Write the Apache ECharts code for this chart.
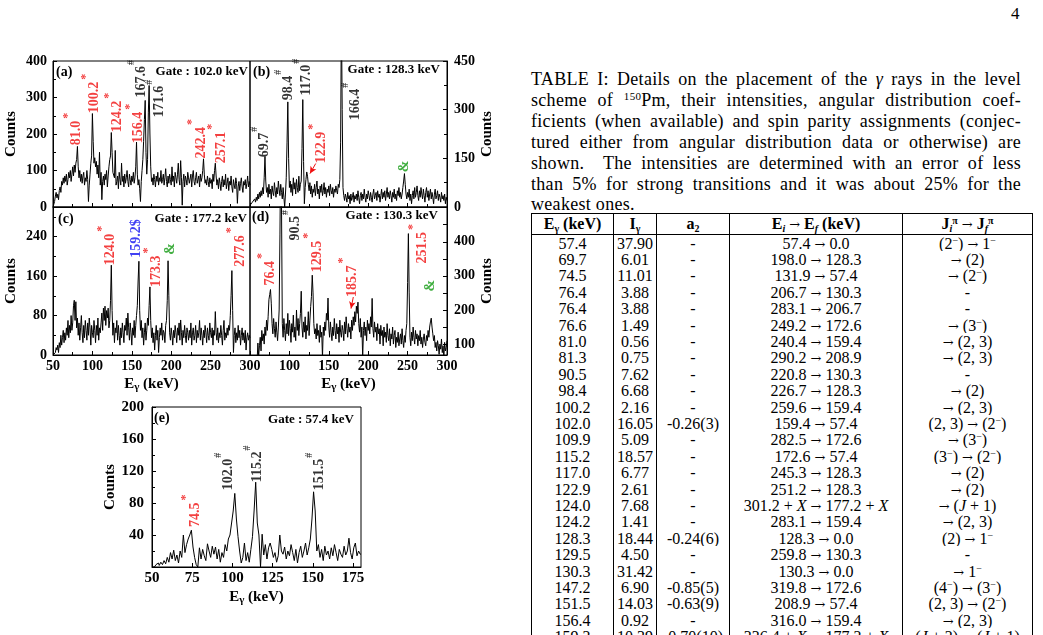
<!DOCTYPE html>
<html>
<head>
<meta charset="utf-8">
<script src="https://cdn.jsdelivr.net/npm/echarts@6/dist/echarts.min.js"></script>
<style>
  body { margin: 0; width: 1043px; height: 635px; overflow: hidden; background: #fff; position: relative; font-family: "Liberation Serif", "Times New Roman", serif; color: #000; }
  #chart { position: absolute; left: 0; top: 0; width: 520px; height: 635px; }
  #pageno { position: absolute; left: 1011px; top: 4px; font-size: 17px; }
  #caption { position: absolute; left: 531px; top: 69px; width: 490px; font-size: 18px; letter-spacing: 0.3px; line-height: 20.9px; }
  #caption div { text-align: justify; text-align-last: justify; white-space: nowrap; }
  #caption div.last { text-align-last: left; }
  #caption sup { font-size: 11px; line-height: 0; vertical-align: 6px; }
  #tbl { position: absolute; left: 531px; top: 213px; border-collapse: collapse; font-size: 16px; table-layout: fixed; }
  #tbl td, #tbl th { border-left: 1px solid #000; border-right: 1px solid #000; padding: 0; text-align: center; white-space: nowrap; overflow: hidden; }
  #tbl th { border-top: 1px solid #000; border-bottom: 1px solid #000; height: 20px; line-height: 18px; font-weight: bold; }
  #tbl td { height: 16.4px; line-height: 15px; }
  #tbl sup { font-size: 10px; line-height: 0; vertical-align: 5px; }
  #tbl sub { font-size: 10px; line-height: 0; vertical-align: -3px; }
  .ar { font-family: "DejaVu Serif", serif; font-size: 13px; font-weight: normal; line-height: 0; }
</style>
</head>
<body>
<div id="chart"></div>
<div id="pageno">4</div>
<div id="caption">
  <div>TABLE I: Details on the placement of the <i>γ</i> rays in the level</div>
  <div>scheme of <sup>150</sup>Pm, their intensities, angular distribution coef-</div>
  <div>ficients (when available) and spin parity assignments (conjec-</div>
  <div>tured either from angular distribution data or otherwise) are</div>
  <div>shown. &nbsp;The intensities are determined with an error of less</div>
  <div>than 5% for strong transitions and it was about 25% for the</div>
  <div class="last">weakest ones.</div>
</div>
<table id="tbl"></table>
<script>
const SERIF = '"Liberation Serif", "Times New Roman", serif';
const RED = "#f01010";
const BLUE = "#1010f0";
const GREEN = "#109a10";

// energy of first channel (keV), 1 keV per channel
const energyStart = 50;

// (a) gate 102.0 keV, 50..300 keV
const countsA = [
  0, 5, 15, 30, 40, 25, 35, 20, 45, 55,
  40, 70, 60, 80, 65, 85, 70, 90, 60, 75,
  95, 80, 100, 70, 90, 110, 85, 115, 95, 120,
  130, 166, 110, 80, 100, 70, 90, 65, 85, 95,
  60, 80, 70, 100, 75, 15, 60, 90, 120, 140,
  256, 180, 120, 135, 110, 125, 90, 115, 80, 150,
  60, 95, 20, 70, 85, 60, 90, 75, 100, 55,
  85, 110, 130, 140, 204, 150, 95, 95, 80, 155,
  60, 70, 85, 50, 95, 75, 60, 120, 70, 85,
  55, 90, 65, 80, 100, 70, 55, 90, 75, 60,
  85, 70, 95, 65, 80, 110, 178, 90, 60, 75,
  50, 15, 70, 100, 130, 180, 240, 292, 150, 90,
  130, 260, 333, 200, 110, 70, 80, 60, 90, 75,
  55, 85, 70, 95, 60, 80, 70, 100, 65, 75,
  90, 60, 80, 105, 70, 55, 85, 65, 90, 75,
  60, 110, 70, 85, 55, 95, 80, 65, 90, 120,
  75, 60, 127, 80, 5, 70, 90, 55, 85, 75,
  60, 95, 80, 65, 70, 90, 55, 85, 100, 70,
  60, 80, 95, 65, 75, 85, 55, 90, 70, 80,
  100, 132, 90, 65, 75, 60, 85, 70, 55, 80,
  65, 75, 50, 90, 70, 100, 120, 85, 60, 75,
  50, 80, 65, 45, 70, 85, 55, 75, 60, 90,
  50, 65, 80, 45, 70, 60, 85, 55, 40, 75,
  60, 50, 80, 65, 10, 55, 70, 45, 65, 80,
  55, 40, 70, 60, 75, 50, 65, 85, 55, 70,
  60
];

// (b) gate 128.3 keV
const countsB = [
  5, 10, 0, 15, 20, 10, 25, 15, 30, 20,
  40, 25, 45, 30, 50, 35, 60, 40, 90, 156,
  80, 45, 60, 30, 70, 40, 55, 25, 65, 45,
  35, 75, 50, 30, 60, 40, 80, 55, 35, 70,
  45, 25, 60, 30, 0, 40, 90, 200, 324, 150,
  60, 80, 45, 70, 35, 90, 55, 75, 40, 85,
  60, 45, 95, 50, 70, 80, 180, 331, 140, 10,
  60, 85, 108, 95, 70, 50, 75, 40, 65, 30,
  55, 45, 70, 35, 60, 80, 40, 55, 25, 65,
  45, 70, 35, 50, 75, 40, 60, 30, 55, 45,
  65, 35, 70, 50, 40, 60, 30, 55, 45, 65,
  50, 40, 70, 60, 85, 200, 600, 300, 60, 35,
  20, 40, 30, 15, 45, 25, 35, 10, 40, 20,
  30, 45, 15, 35, 25, 40, 20, 50, 30, 10,
  35, 45, 20, 40, 25, 55, 30, 15, 40, 25,
  50, 35, 20, 45, 30, 15, 40, 55, 25, 35,
  45, 20, 50, 30, 40, 15, 35, 55, 25, 45,
  30, 50, 20, 40, 60, 30, 45, 25, 50, 35,
  15, 45, 30, 55, 25, 40, 20, 50, 35, 60,
  30, 45, 25, 40, 60, 80, 103, 70, 40, 25,
  45, 30, 55, 20, 40, 10, 35, 50, 25, 60,
  30, 45, 65, 35, 20, 50, 30, 60, 40, 25,
  55, 35, 15, 45, 60, 30, 50, 20, 40, 55,
  25, 45, 30, 10, 40, 55, 25, 35, 50, 20,
  40, 30, 15, 45, 25, 35, 20, 40, 10, 30,
  20
];

// (c) gate 177.2 keV
const countsC = [
  0, 0, 0, 5, 15, 10, 20, 5, 25, 15,
  40, 20, 35, 50, 25, 45, 30, 55, 40, 70,
  35, 60, 45, 80, 50, 65, 100, 111, 70, 108,
  55, 75, 40, 65, 30, 55, 80, 45, 25, 60,
  35, 70, 50, 30, 65, 40, 75, 55, 20, 60,
  45, 35, 70, 50, 25, 60, 40, 75, 30, 55,
  45, 65, 85, 50, 95, 70, 99, 60, 90, 75,
  95, 55, 70, 110, 182, 90, 40, 65, 25, 55,
  45, 70, 30, 60, 40, 20, 55, 35, 65, 45,
  25, 60, 50, 75, 40, 85, 55, 30, 65, 45,
  20, 55, 40, 70, 35, 60, 80, 100, 150, 190,
  90, 50, 70, 35, 55, 20, 45, 65, 30, 50,
  75, 60, 100, 138, 70, 35, 55, 25, 45, 10,
  40, 60, 30, 50, 5, 35, 55, 40, 65, 30,
  50, 45, 25, 60, 70, 110, 191, 120, 45, 30,
  55, 40, 20, 50, 35, 60, 45, 25, 55, 40,
  65, 30, 71, 45, 20, 50, 35, 60, 40, 25,
  55, 45, 30, 50, 35, 65, 20, 45, 55, 30,
  40, 60, 25, 50, 35, 45, 70, 30, 55, 40,
  20, 50, 35, 60, 45, 25, 55, 40, 30, 65,
  45, 35, 55, 20, 50, 40, 88, 45, 30, 55,
  25, 45, 35, 60, 40, 20, 50, 70, 30, 45,
  35, 55, 40, 60, 50, 80, 120, 171, 90, 5,
  40, 55, 25, 45, 30, 60, 35, 50, 20, 40,
  55, 30, 45, 25, 50, 10, 35, 45, 30, 40,
  35
];

// (d) gate 130.3 keV
const countsD = [
  40, 55, 45, 60, 50, 35, 55, 45, 60, 50,
  103, 65, 95, 120, 80, 140, 110, 130, 100, 150,
  125, 170, 140, 180, 230, 245, 260, 220, 160, 130,
  175, 145, 120, 165, 135, 110, 150, 200, 420, 700,
  500, 160, 120, 175, 140, 110, 160, 130, 190, 125,
  170, 145, 105, 160, 135, 185, 120, 150, 110, 200,
  140, 175, 125, 160, 190, 255, 150, 120, 165, 135,
  180, 115, 155, 140, 195, 125, 170, 210, 240, 302,
  250, 160, 130, 145, 115, 160, 125, 140, 105, 155,
  120, 135, 60, 150, 125, 165, 140, 190, 170, 235,
  150, 120, 165, 135, 110, 150, 125, 175, 140, 115,
  160, 130, 150, 105, 170, 135, 120, 155, 140, 110,
  165, 130, 180, 145, 120, 160, 135, 150, 115, 170,
  140, 180, 155, 195, 165, 211, 190, 223, 160, 135,
  175, 120, 150, 60, 140, 165, 125, 150, 110, 170,
  140, 160, 130, 180, 150, 234, 145, 120, 165, 135,
  150, 110, 160, 130, 145, 100, 155, 125, 140, 95,
  150, 120, 135, 105, 160, 125, 110, 145, 95, 130,
  115, 150, 100, 125, 140, 90, 120, 105, 135, 95,
  115, 130, 100, 145, 110, 90, 125, 105, 140, 160,
  280, 424, 250, 120, 95, 135, 110, 150, 120, 100,
  140, 115, 130, 95, 125, 110, 140, 100, 120, 90,
  115, 130, 105, 95, 125, 110, 140, 120, 150, 165,
  176, 150, 130, 110, 125, 90, 105, 80, 110, 95,
  70, 100, 85, 115, 75, 95, 60, 105, 80, 90,
  110
];

// (e) gate 57.4 keV, 50..180 keV
const countsE = [
  0, 0, 0, 3, 5, 2, 6, 3, 8, 4,
  12, 6, 18, 10, 21, 8, 15, 5, 20, 12,
  40, 18, 28, 35, 40, 46, 25, 12, 3, 0,
  24, 10, 22, 14, 8, 29, 20, 12, 26, 16,
  25, 10, 22, 6, 18, 12, 28, 20, 35, 40,
  55, 70, 92, 60, 38, 20, 5, 12, 30, 8,
  18, 6, 22, 38, 70, 106, 55, 40, 0, 41,
  15, 28, 10, 24, 30, 22, 12, 18, 6, 14,
  40, 20, 16, 25, 10, 20, 14, 28, 18, 8,
  22, 5, 18, 26, 12, 20, 30, 15, 24, 35,
  60, 94, 70, 20, 28, 12, 22, 8, 26, 15,
  20, 10, 24, 14, 28, 18, 8, 22, 16, 12,
  26, 15, 20, 36, 18, 10, 24, 30, 14, 20,
  16
];

// peak labels: [energy, counts where text starts, text, kind]
// kind: r = red with *, k = black with #, b = blue, g = green
const labelsA = [
  [80.1, 169, "81.0", "r"],
  [102.9, 257, "100.2", "r"],
  [132.1, 205, "124.2", "r"],
  [158.8, 175, "156.4", "r"],
  [162.6, 300, "167.6", "k"],
  [185.4, 246, "171.6", "k"],
  [238.3, 133, "242.4", "r"],
  [263.7, 120, "257.1", "r"]
];
const labelsB = [
  [67.8, 153, "69.7", "k"],
  [98.2, 329, "98.4", "k"],
  [122, 344, "117.0", "k"],
  [141, 135, "122.9", "r"],
  [183.2, 267, "166.4", "k"],
  [245.8, 107, "&", "g"]
];
const labelsC = [
  [123.2, 182, "124.0", "r"],
  [156.2, 197, "159.2$", "b"],
  [181.6, 138, "173.3", "r"],
  [199, 203, "&", "g"],
  [287.8, 179, "277.6", "r"]
];
const labelsD = [
  [76.3, 272, "76.4", "r"],
  [107.1, 404, "90.5", "k"],
  [135.4, 311, "129.5", "r"],
  [179.8, 238, "185.7", "r"],
  [268.7, 336, "251.5", "r"],
  [278.4, 254, "&", "g"]
];
const labelsE = [
  [76.9, 50, "74.5", "r"],
  [97.7, 96, "102.0", "k"],
  [115.4, 106, "115.2", "k"],
  [153.9, 96, "151.5", "k"]
];

// arrows from label to weak peak: [from, to]
const arrowB = [[133.4, 134], [126.1, 103]];
const arrowD = [[181.1, 238], [178.2, 204]];

const panelNames = ["(a)", "(b)", "(c)", "(d)", "(e)"];
const gates = ["102.0", "128.3", "177.2", "130.3", "57.4"];

// table I
const tEnergy = ["57.4", "69.7", "74.5", "76.4", "76.4", "76.6", "81.0", "81.3", "90.5", "98.4", "100.2", "102.0", "109.9", "115.2", "117.0", "122.9", "124.0", "124.2", "128.3", "129.5", "130.3", "147.2", "151.5", "156.4", "159.2"];
const tIntensity = ["37.90", "6.01", "11.01", "3.88", "3.88", "1.49", "0.56", "0.75", "7.62", "6.68", "2.16", "16.05", "5.09", "18.57", "6.77", "2.61", "7.68", "1.41", "18.44", "4.50", "31.42", "6.90", "14.03", "0.92", "10.39"];
const tA2 = ["-", "-", "-", "-", "-", "-", "-", "-", "-", "-", "-", "-0.26(3)", "-", "-", "-", "-", "-", "-", "-0.24(6)", "-", "-", "-0.85(5)", "-0.63(9)", "-", "-0.70(10)"];
const tLevels = ["57.4 → 0.0", "198.0 → 128.3", "131.9 → 57.4", "206.7 → 130.3", "283.1 → 206.7", "249.2 → 172.6", "240.4 → 159.4", "290.2 → 208.9", "220.8 → 130.3", "226.7 → 128.3", "259.6 → 159.4", "159.4 → 57.4", "282.5 → 172.6", "172.6 → 57.4", "245.3 → 128.3", "251.2 → 128.3", "301.2 + X → 177.2 + X", "283.1 → 159.4", "128.3 → 0.0", "259.8 → 130.3", "130.3 → 0.0", "319.8 → 172.6", "208.9 → 57.4", "316.0 → 159.4", "336.4 + X → 177.2 + X"];
const tSpins = ["(2^-) → 1^-", "→ (2)", "→ (2^-)", "-", "-", "→ (3^-)", "→ (2, 3)", "→ (2, 3)", "-", "→ (2)", "→ (2, 3)", "(2, 3) → (2^-)", "→ (3^-)", "(3^-) → (2^-)", "→ (2)", "→ (2)", "→ (J + 1)", "→ (2, 3)", "(2) → 1^-", "-", "→ 1^-", "(4^-) → (3^-)", "(2, 3) → (2^-)", "→ (2, 3)", "(J + 2) → (J + 1)"];

function tex(s) {
  return s.replace(/\^-/g, "<sup>−</sup>")
    .replace(/X/g, "<i>X</i>")
    .replace(/J/g, "<i>J</i>")
    .replace(/→/g, '<span class="ar">→</span>');
}

function buildTable() {
  const widths = [82, 43, 73, 173, 130];
  let html = "<colgroup>" + widths.map(w => '<col style="width:' + w + 'px">').join("") + "</colgroup>";
  html += "<tr><th>E<sub>γ</sub> (keV)</th><th>I<sub>γ</sub></th><th>a<sub>2</sub></th>" +
    '<th>E<sub><i>i</i></sub> <span class="ar">→</span> E<sub><i>f</i></sub> (keV)</th>' +
    '<th>J<sub><i>i</i></sub><sup>π</sup> <span class="ar">→</span> J<sub><i>f</i></sub><sup>π</sup></th></tr>';
  for (let i = 0; i < tEnergy.length; i++) {
    html += "<tr><td>" + tEnergy[i] + "</td><td>" + tIntensity[i] + "</td><td>" + tA2[i] +
      "</td><td>" + tex(tLevels[i]) + "</td><td>" + tex(tSpins[i]) + "</td></tr>";
  }
  document.getElementById("tbl").innerHTML = html;
}
buildTable();

// ---------- chart ----------
const axisFont = { color: "#000", fontFamily: SERIF, fontWeight: "bold", fontSize: 14 };
const nameFont = { color: "#000", fontFamily: SERIF, fontWeight: "bold", fontSize: 15 };
const blackLine = { show: true, onZero: false, lineStyle: { color: "#000", width: 1 } };
const tickIn = { show: true, inside: true, length: 4, lineStyle: { color: "#000" } };
const minorIn = { show: true, splitNumber: 2, length: 3, lineStyle: { color: "#000" } };
const noSplit = { show: false };

const energyName = "{e|E}{s|γ}{e| (keV)}";
const energyNameStyle = {
  rich: {
    e: { ...nameFont, fontSize: 15, lineHeight: 18 },
    s: { ...nameFont, fontSize: 11, lineHeight: 18, height: 11, verticalAlign: "bottom" }
  }
};

const peakRich = {
  r: { color: RED, fontFamily: SERIF, fontWeight: "bold", fontSize: 14, lineHeight: 14 },
  rs: { color: RED, fontFamily: SERIF, fontWeight: "bold", fontSize: 12, lineHeight: 30, height: 12, verticalAlign: "top", padding: [0, 0, 0, 2] },
  k: { color: "#000", fontFamily: SERIF, fontWeight: "bold", fontSize: 14, lineHeight: 14 },
  ks: { color: "#000", fontFamily: SERIF, fontWeight: "bold", fontSize: 10, lineHeight: 30, height: 10, verticalAlign: "top", padding: [0, 0, 0, 1] },
  b: { color: BLUE, fontFamily: SERIF, fontWeight: "bold", fontSize: 14, lineHeight: 14 },
  g: { color: GREEN, fontFamily: SERIF, fontWeight: "bold", fontSize: 14, lineHeight: 14 }
};

function peakText(p) {
  const t = p.data[2];
  const k = p.data[3];
  if (k === "r") return "{r|" + t + "}{rs|*}";
  if (k === "k") return "{k|" + t + "}{ks|#}";
  return "{" + k + "|" + t + "}";
}

function spectrum(counts, idx, step) {
  return {
    type: "line",
    xAxisIndex: idx,
    yAxisIndex: idx,
    data: counts.map((c, i) => [energyStart + i, c]),
    showSymbol: false,
    symbol: "none",
    step: step || false,
    clip: true,
    silent: true,
    lineStyle: { color: "#000", width: 1 }
  };
}

function peakLabels(list, idx, arrow) {
  const s = {
    type: "scatter",
    xAxisIndex: idx,
    yAxisIndex: idx,
    data: list,
    symbolSize: 0,
    silent: true,
    itemStyle: { color: "transparent" },
    label: {
      show: true,
      position: "inside",
      rotate: 90,
      align: "left",
      verticalAlign: "middle",
      formatter: peakText,
      rich: peakRich
    }
  };
  if (arrow) {
    s.markLine = {
      silent: true,
      symbol: ["none", "arrow"],
      symbolSize: [5, 7],
      label: { show: false },
      lineStyle: { color: RED, width: 1, type: "solid" },
      data: [[{ coord: arrow[0] }, { coord: arrow[1] }]]
    };
  }
  return s;
}

function gridBox(left, top, width, height) {
  return { left, top, width, height, show: true, borderColor: "#000", borderWidth: 1, outerBoundsMode: "none", containLabel: false };
}

function xAxisDef(idx, max, interval, label) {
  return {
    gridIndex: idx,
    type: "value",
    min: 50,
    max: max,
    interval: interval,
    axisLine: blackLine,
    axisTick: tickIn,
    minorTick: minorIn,
    splitLine: noSplit,
    axisLabel: label
  };
}

function gateText(idx, x, y) {
  return {
    type: "text",
    x: x,
    y: y,
    style: {
      text: "Gate : " + gates[idx] + " keV",
      font: "bold 13px " + SERIF,
      fill: "#000",
      align: "right",
      verticalAlign: "middle",
      textAlign: "right",
      textVerticalAlign: "middle"
    }
  };
}

function panelText(idx, x, y) {
  return {
    type: "text",
    x: x,
    y: y,
    style: {
      text: panelNames[idx],
      font: "bold 14px " + SERIF,
      fill: "#000",
      align: "left",
      verticalAlign: "middle",
      textAlign: "left",
      textVerticalAlign: "middle"
    }
  };
}

const option = {
  animation: false,
  textStyle: { fontFamily: SERIF },
  grid: [
    gridBox(53, 61, 197, 146),
    gridBox(250, 61, 197, 146),
    gridBox(53, 207, 197, 148),
    gridBox(250, 207, 197, 148),
    gridBox(152, 407, 209, 160)
  ],
  xAxis: [
    xAxisDef(0, 300, 50, { show: false }),
    xAxisDef(1, 300, 50, { show: false }),
    {
      ...xAxisDef(2, 300, 50, { ...axisFont, margin: 4 }),
      name: energyName, nameLocation: "middle", nameGap: 20, nameTextStyle: energyNameStyle
    },
    {
      ...xAxisDef(3, 300, 50, { ...axisFont, margin: 4, showMinLabel: false }),
      name: energyName, nameLocation: "middle", nameGap: 20, nameTextStyle: energyNameStyle
    },
    {
      ...xAxisDef(4, 180, 25, { ...axisFont, fontSize: 15, margin: 4, showMaxLabel: false }),
      minorTick: { show: false },
      name: energyName, nameLocation: "middle", nameGap: 21, nameTextStyle: energyNameStyle
    }
  ],
  yAxis: [
    {
      gridIndex: 0, type: "value", min: 0, max: 400, interval: 100,
      axisLine: blackLine, axisTick: tickIn, minorTick: minorIn, splitLine: noSplit,
      axisLabel: { ...axisFont, margin: 6 },
      name: "Counts", nameLocation: "middle", nameRotate: 90, nameGap: 34, nameTextStyle: nameFont
    },
    {
      gridIndex: 1, type: "value", position: "right", min: 0, max: 450, interval: 150,
      axisLine: blackLine, axisTick: tickIn, minorTick: minorIn, splitLine: noSplit,
      axisLabel: { ...axisFont, margin: 7 },
      name: "Counts", nameLocation: "middle", nameRotate: 90, nameGap: 33, nameTextStyle: nameFont
    },
    {
      gridIndex: 2, type: "value", min: 0, max: 300, interval: 80,
      axisLine: blackLine, axisTick: tickIn, minorTick: minorIn, splitLine: noSplit,
      axisLabel: { ...axisFont, margin: 6, showMaxLabel: false },
      name: "Counts", nameLocation: "middle", nameRotate: 90, nameGap: 34, nameTextStyle: nameFont
    },
    {
      gridIndex: 3, type: "value", position: "right", min: 68, max: 502,
      axisLine: blackLine, splitLine: noSplit,
      axisTick: { ...tickIn, customValues: [100, 150, 200, 250, 300, 350, 400, 450, 500] },
      axisLabel: { ...axisFont, margin: 7, customValues: [100, 200, 300, 400] },
      name: "Counts", nameLocation: "middle", nameRotate: 90, nameGap: 33, nameTextStyle: nameFont
    },
    {
      gridIndex: 4, type: "value", min: 0, max: 200, interval: 40,
      axisLine: blackLine, axisTick: tickIn, minorTick: minorIn, splitLine: noSplit,
      axisLabel: { ...axisFont, fontSize: 15, margin: 8, showMinLabel: false },
      name: "Counts", nameLocation: "middle", nameRotate: 90, nameGap: 32, nameTextStyle: nameFont
    }
  ],
  series: [
    spectrum(countsA, 0),
    spectrum(countsB, 1),
    spectrum(countsC, 2),
    spectrum(countsD, 3),
    spectrum(countsE, 4, "middle"),
    peakLabels(labelsA, 0),
    peakLabels(labelsB, 1, arrowB),
    peakLabels(labelsC, 2),
    peakLabels(labelsD, 3, arrowD),
    peakLabels(labelsE, 4)
  ],
  graphic: [
    panelText(0, 56, 72), gateText(0, 248, 72),
    panelText(1, 253, 72), gateText(1, 440, 70),
    panelText(2, 58, 219), gateText(2, 247, 219),
    panelText(3, 252, 217), gateText(3, 438, 216),
    panelText(4, 154, 418), gateText(4, 354, 420)
  ]
};

const chart = echarts.init(document.getElementById("chart"), null, { renderer: "canvas" });
chart.setOption(option);
</script>
</body>
</html>
